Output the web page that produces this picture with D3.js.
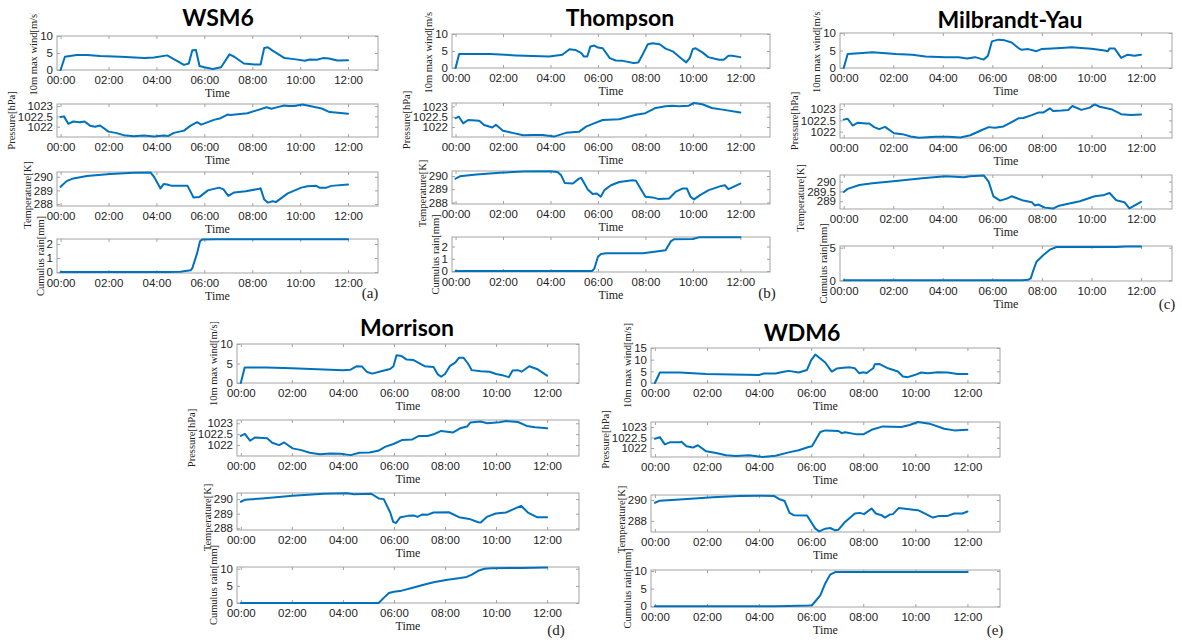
<!DOCTYPE html>
<html>
<head>
<meta charset="utf-8">
<script src="https://cdn.jsdelivr.net/npm/d3@7"></script>
<style>
  html, body { margin: 0; padding: 0; background: #fff; }
  svg { display: block; }
</style>
</head>
<body>
<script>
// ---------- time axis ----------
const timeTickHours = [0, 2, 4, 6, 8, 10, 12];
const timeTickLabels = ["00:00", "02:00", "04:00", "06:00", "08:00", "10:00", "12:00"];
const variableLabels = ["10m max wind[m/s]", "Pressure[hPa]", "Temperature[K]", "Cumulus rain[mm]"];
const schemeTitles = ["WSM6", "Thompson", "Milbrandt-Yau", "Morrison", "WDM6"];
const panelTags = ["(a)", "(b)", "(c)", "(d)", "(e)"];

// ---------- WSM6 ([hour, value]) ----------
const wsm6Wind = [[0,0],[0.18,3.9],[0.67,4.4],[1.1,4.4],[1.65,4.1],[2.5,3.9],[3.5,3.5],[3.9,3.7],[4.45,4.3],[5.15,1.5],[5.35,1.9],[5.5,5.8],[5.65,5.9],[5.8,1.2],[6.0,0.8],[6.35,0.3],[6.7,0.8],[7.05,4.6],[7.25,3.9],[7.65,1.9],[8.1,1.6],[8.35,1.6],[8.5,6.5],[8.65,6.7],[8.85,5.7],[9.35,3.5],[9.75,3.2],[10.2,2.7],[10.4,3.1],[10.7,3.0],[10.95,3.5],[11.2,3.4],[11.55,2.8],[12,2.9]];
const wsm6Pres = [[0,1022.47],[0.14,1022.5],[0.32,1022.14],[0.53,1022.25],[0.8,1022.22],[1.0,1022.25],[1.23,1022.05],[1.44,1022.0],[1.65,1022.06],[2.0,1021.76],[2.3,1021.7],[2.63,1021.59],[3.05,1021.54],[3.47,1021.57],[3.9,1021.52],[4.3,1021.57],[4.5,1021.55],[4.73,1021.7],[5.15,1021.81],[5.43,1022.05],[5.7,1022.22],[5.87,1022.1],[6.4,1022.33],[6.68,1022.41],[6.97,1022.59],[7.1,1022.57],[7.8,1022.65],[8.15,1022.78],[8.6,1022.94],[8.8,1022.87],[9.06,1022.95],[9.34,1023.03],[9.5,1023.0],[9.76,1023.0],[10.1,1023.08],[10.4,1023.0],[10.9,1022.88],[11.23,1022.71],[11.58,1022.67],[12,1022.63]];
const wsm6Temp = [[0,289.26],[0.25,289.68],[0.53,289.88],[1.1,290.05],[2.07,290.2],[3.05,290.3],[3.75,290.32],[3.9,290.0],[4.17,289.14],[4.3,289.46],[4.45,289.43],[4.65,289.33],[5.3,289.33],[5.55,288.47],[5.8,288.52],[6.15,289.0],[6.62,289.2],[6.8,289.07],[7.0,288.6],[7.25,288.85],[7.73,288.93],[8.3,289.12],[8.35,289.15],[8.5,288.33],[8.65,288.1],[8.85,288.2],[9.0,288.15],[9.48,288.78],[10.05,289.2],[10.3,289.3],[10.67,289.33],[10.8,289.2],[11.1,289.2],[11.3,289.33],[12,289.43]];
const wsm6Rain = [[0,0],[4.5,0],[5.0,0.02],[5.43,0.12],[5.5,0.28],[5.7,1.35],[5.82,2.2],[5.92,2.33],[6.5,2.35],[12,2.35]];

// ---------- Thompson ----------
const thomWind = [[0,0],[0.15,4.1],[0.9,4.1],[1.45,4.1],[2.55,3.7],[3.95,3.4],[4.5,3.9],[4.8,5.5],[5.05,5.3],[5.3,4.4],[5.4,3.4],[5.55,3.4],[5.68,6.3],[5.85,6.6],[6.0,6.0],[6.2,5.8],[6.5,2.9],[6.75,2.2],[7.05,2.1],[7.5,1.5],[7.7,1.6],[7.85,3.5],[8.1,7.0],[8.3,7.3],[8.6,7.0],[8.85,5.7],[9.15,4.9],[9.55,2.6],[9.72,1.65],[9.87,3.0],[10.0,5.6],[10.12,5.8],[10.4,4.6],[10.65,3.2],[11.1,2.4],[11.3,2.4],[11.5,3.6],[11.65,3.6],[12,3.2]];
const thomPres = [[0,1022.43],[0.14,1022.5],[0.32,1022.18],[0.53,1022.34],[1.0,1022.3],[1.2,1022.1],[1.55,1021.98],[1.7,1022.11],[2.0,1021.82],[2.4,1021.72],[2.85,1021.6],[3.25,1021.62],[3.67,1021.62],[4.15,1021.54],[4.65,1021.72],[5.2,1021.77],[5.5,1022.02],[5.78,1022.15],[6.2,1022.34],[6.9,1022.38],[7.6,1022.59],[8.0,1022.67],[8.43,1022.92],[8.85,1023.0],[9.13,1023.03],[9.4,1023.0],[9.83,1023.03],[10.04,1023.16],[10.4,1023.1],[10.8,1022.92],[11.25,1022.84],[12,1022.7]];
const thomTemp = [[0,289.8],[0.18,289.98],[0.88,290.12],[1.86,290.25],[2.84,290.35],[3.96,290.37],[4.3,290.3],[4.45,290.05],[4.6,289.48],[4.94,289.43],[5.2,289.8],[5.3,289.85],[5.57,288.98],[5.78,288.63],[5.95,288.68],[6.12,288.43],[6.27,288.93],[6.55,289.3],[6.9,289.55],[7.45,289.68],[7.6,289.65],[8.0,288.43],[8.3,288.38],[8.57,288.25],[9.0,288.3],[9.27,288.8],[9.55,289.05],[9.75,289.05],[9.9,288.43],[10.05,288.23],[10.3,288.55],[10.67,288.93],[11.2,289.25],[11.35,289.3],[11.5,289.0],[12,289.43]];
const thomRain = [[0,0],[5.75,0],[5.85,0.2],[6.0,1.17],[6.13,1.4],[6.35,1.45],[7.9,1.45],[8.3,1.55],[8.85,1.7],[9.06,2.4],[9.2,2.6],[10.0,2.62],[10.25,2.75],[12,2.75]];

// ---------- Milbrandt-Yau ----------
const myWind = [[0,0],[0.16,4.0],[0.76,4.3],[1.16,4.5],[2.1,4.0],[2.77,3.8],[3.3,3.3],[4.1,3.1],[4.64,3.1],[4.98,2.7],[5.3,3.1],[5.65,2.4],[5.82,3.5],[5.98,7.6],[6.25,8.1],[6.5,7.9],[6.78,7.3],[7.05,5.7],[7.18,5.2],[7.45,5.4],[7.78,4.8],[7.98,5.4],[8.4,5.6],[8.93,5.8],[9.2,5.9],[10.0,5.5],[10.53,5.0],[10.66,4.8],[10.73,5.6],[10.93,5.6],[11.2,2.9],[11.46,3.8],[11.73,3.5],[12,3.8]];
const myPres = [[0,1022.53],[0.16,1022.57],[0.36,1022.27],[0.56,1022.39],[0.9,1022.36],[1.03,1022.36],[1.23,1022.2],[1.43,1022.11],[1.67,1022.21],[2.03,1021.93],[2.37,1021.89],[2.7,1021.79],[3.04,1021.73],[3.7,1021.77],[4.24,1021.77],[4.71,1021.74],[5.11,1021.84],[5.51,1022.04],[5.85,1022.2],[6.11,1022.17],[6.45,1022.23],[6.72,1022.39],[7.05,1022.59],[7.25,1022.6],[7.59,1022.73],[7.85,1022.84],[8.05,1022.84],[8.32,1023.03],[8.45,1022.91],[8.79,1022.93],[9.06,1022.96],[9.23,1023.13],[9.59,1022.96],[9.93,1023.06],[10.13,1023.2],[10.33,1023.1],[10.8,1022.99],[11.2,1022.77],[11.6,1022.74],[12,1022.76]];
const myTemp = [[0,289.47],[0.16,289.63],[0.63,289.83],[1.16,289.92],[2.1,290.03],[3.17,290.17],[4.1,290.28],[4.5,290.25],[4.84,290.22],[5.1,290.28],[5.65,290.32],[5.85,290.0],[6.04,289.25],[6.31,289.03],[6.58,289.13],[6.78,289.25],[7.25,289.03],[7.59,288.95],[7.72,288.78],[7.85,288.83],[8.12,288.67],[8.45,288.62],[8.65,288.75],[9.06,288.87],[9.53,289.0],[10.13,289.25],[10.46,289.3],[10.73,289.42],[11.0,289.05],[11.33,288.95],[11.53,288.63],[12,288.97]];
const myRain = [[0,0],[7.2,0],[7.45,0.1],[7.55,0.3],[7.65,1.5],[7.78,2.85],[8.05,3.85],[8.32,4.7],[8.59,5.1],[11.0,5.1],[11.4,5.2],[12,5.2]];

// ---------- Morrison ----------
const morWind = [[0,0],[0.15,4.0],[1.0,4.0],[2.0,3.8],[3.0,3.5],[4.0,3.3],[4.3,3.4],[4.55,4.3],[4.75,4.2],[4.95,2.8],[5.15,2.4],[5.5,3.0],[5.85,3.6],[5.98,4.3],[6.1,7.1],[6.3,6.9],[6.5,6.0],[6.75,5.9],[7.2,4.3],[7.55,4.1],[7.72,2.2],[7.85,1.6],[8.0,2.3],[8.2,4.4],[8.4,5.2],[8.55,6.5],[8.72,6.5],[8.9,5.0],[9.05,3.3],[9.4,3.0],[9.75,2.9],[10.0,2.3],[10.3,1.9],[10.5,1.5],[10.65,3.2],[10.85,3.3],[11.0,2.9],[11.3,4.3],[11.6,3.6],[12,1.9]];
const morPres = [[0,1022.42],[0.16,1022.51],[0.36,1022.2],[0.56,1022.35],[1.03,1022.31],[1.23,1022.11],[1.5,1022.0],[1.7,1022.12],[2.03,1021.85],[2.37,1021.77],[2.7,1021.65],[3.1,1021.58],[3.5,1021.62],[3.9,1021.6],[4.3,1021.54],[4.64,1021.65],[5.04,1021.66],[5.38,1021.74],[5.65,1021.92],[5.98,1022.05],[6.31,1022.23],[6.72,1022.26],[6.98,1022.42],[7.32,1022.42],[7.59,1022.51],[7.85,1022.65],[8.32,1022.58],[8.59,1022.77],[8.86,1022.85],[8.99,1023.03],[9.39,1023.08],[9.66,1023.0],[10.13,1023.05],[10.39,1023.1],[10.86,1023.06],[11.2,1022.88],[11.53,1022.82],[12,1022.77]];
const morTemp = [[0,289.82],[0.16,289.95],[0.83,290.05],[2.03,290.23],[3.24,290.37],[4.17,290.41],[4.44,290.34],[5.11,290.37],[5.4,290.05],[5.6,290.0],[5.85,289.1],[5.97,288.44],[6.08,288.36],[6.25,288.76],[6.55,288.85],[6.8,288.87],[6.92,288.78],[7.1,288.94],[7.3,288.92],[7.55,289.08],[8.15,289.1],[8.55,288.76],[8.95,288.64],[9.3,288.41],[9.4,288.39],[9.66,288.8],[9.99,289.01],[10.39,289.08],[10.8,289.4],[10.98,289.54],[11.25,289.08],[11.6,288.76],[12,288.76]];
const morRain = [[0,0],[5.4,0],[5.6,1.5],[5.8,2.9],[6.0,3.3],[6.3,3.6],[6.7,4.4],[7.2,5.4],[7.6,6.1],[8.1,6.8],[8.6,7.3],[8.85,7.6],[9.05,8.3],[9.3,9.4],[9.55,10.0],[9.8,10.15],[11.0,10.2],[12,10.35]];

// ---------- WDM6 ----------
const wdmWind = [[0,0],[0.19,4.5],[0.95,4.5],[1.97,3.9],[2.98,3.6],[4.0,3.4],[4.19,4.1],[4.63,4.1],[4.95,4.8],[5.14,5.2],[5.52,4.5],[5.84,5.6],[6.0,9.8],[6.16,12.2],[6.35,10.5],[6.54,8.8],[6.79,4.9],[6.98,6.2],[7.24,6.5],[7.49,6.7],[7.68,6.3],[7.84,4.2],[8.0,4.6],[8.13,4.3],[8.38,6.3],[8.44,8.0],[8.63,8.1],[8.95,6.3],[9.33,4.9],[9.52,2.8],[9.71,2.5],[9.97,3.4],[10.22,4.5],[10.48,4.2],[10.86,4.6],[11.24,4.5],[11.62,3.9],[12,3.9]];
const wdmPres = [[0,1022.44],[0.19,1022.52],[0.38,1022.17],[0.57,1022.27],[0.95,1022.27],[1.02,1022.3],[1.21,1022.08],[1.46,1022.02],[1.65,1022.13],[1.97,1021.84],[2.35,1021.76],[2.73,1021.65],[3.11,1021.62],[3.62,1021.65],[4.13,1021.57],[4.63,1021.63],[5.14,1021.79],[5.52,1021.89],[5.9,1022.05],[6.03,1022.08],[6.35,1022.76],[6.54,1022.84],[7.05,1022.81],[7.17,1022.71],[7.3,1022.75],[7.75,1022.65],[8.0,1022.65],[8.32,1022.87],[8.76,1023.03],[9.46,1023.0],[9.78,1023.1],[10.1,1023.24],[10.54,1023.16],[11.11,1022.92],[11.49,1022.84],[12,1022.87]];
const wdmTemp = [[0,289.74],[0.19,289.94],[0.95,290.06],[2.22,290.26],[3.24,290.39],[4.0,290.42],[4.57,290.39],[4.76,290.1],[4.98,289.9],[5.17,288.77],[5.33,288.55],[5.84,288.52],[6.16,287.26],[6.31,287.0],[6.54,287.26],[6.73,287.32],[6.92,287.1],[7.05,287.16],[7.3,287.9],[7.68,288.71],[7.87,288.77],[8.03,288.65],[8.32,289.19],[8.48,288.71],[8.7,288.55],[8.83,288.32],[9.02,288.61],[9.14,288.65],[9.36,289.23],[9.84,289.1],[10.1,289.03],[10.41,288.65],[10.67,288.32],[10.92,288.48],[11.24,288.48],[11.49,288.71],[11.81,288.71],[12,288.9]];
const wdmRain = [[0,0],[4.6,0],[5.14,0.1],[5.9,0.2],[6.03,0.3],[6.17,1.5],[6.35,3.1],[6.54,6.5],[6.73,9.0],[6.92,9.7],[7.2,9.75],[12,9.75]];

// ---------- y ranges and ticks per scheme (wind, pressure, temperature, rain) ----------
const wsm6Domains = [[0,10],[1021.5,1023.1],[287.85,290.35],[-0.07,2.36]];
const thomDomains = [[0,10],[1021.52,1023.16],[287.88,290.38],[-0.08,2.78]];
const myDomains   = [[0,10],[1021.72,1023.22],[288.6,290.34],[-0.1,5.26]];
const morDomains  = [[0,10],[1021.5,1023.15],[287.88,290.42],[0,10.5]];
const wdmDomains  = [[0,15],[1021.57,1023.24],[286.94,290.48],[-0.2,10.3]];

const wsm6Ticks = [[0,5,10],[1022,1022.5,1023],[288,289,290],[0,1,2]];
const thomTicks = [[0,5,10],[1022,1022.5,1023],[288,289,290],[0,1,2]];
const myTicks   = [[0,5,10],[1022,1022.5,1023],[289,289.5,290],[0,5]];
const morTicks  = [[0,5,10],[1022,1022.5,1023],[288,289,290],[0,5,10]];
const wdmTicks  = [[0,5,10,15],[1022,1022.5,1023],[288,290],[0,5,10]];

const timeDomain = [-0.15, 13.25];

// ---------- page layout (pixels) ----------
const layout = [
  { x0: 57,  x1: 378,  rows: [[36,70],[104,137],[172,206],[239,273]], clipTop: 13,  title: [218, 26],  tag: [370, 298] },
  { x0: 452, x1: 770,  rows: [[34,68],[103,137],[171,204],[237,272]], clipTop: 12,  title: [620, 26],  tag: [767, 298] },
  { x0: 840, x1: 1172, rows: [[33,68],[104,138],[175,209],[246,281]], clipTop: 10,  title: [1010, 28], tag: [1167, 309] },
  { x0: 237, x1: 579,  rows: [[344,383],[420,456],[493,530],[567,603]], clipTop: 322, title: [407, 336], tag: [556, 635] },
  { x0: 651, x1: 1000, rows: [[348,383],[422,457],[495,532],[570,607]], clipTop: 322, title: [802, 341], tag: [995, 635] }
];

const schemes = [
  { series: [wsm6Wind, wsm6Pres, wsm6Temp, wsm6Rain], domains: wsm6Domains, ticks: wsm6Ticks },
  { series: [thomWind, thomPres, thomTemp, thomRain], domains: thomDomains, ticks: thomTicks },
  { series: [myWind, myPres, myTemp, myRain],         domains: myDomains,   ticks: myTicks },
  { series: [morWind, morPres, morTemp, morRain],     domains: morDomains,  ticks: morTicks },
  { series: [wdmWind, wdmPres, wdmTemp, wdmRain],     domains: wdmDomains,  ticks: wdmTicks }
];

// ---------- styles ----------
const LINE_COLOR = "#0072BD";
const BOX_COLOR = "#a3a3a3";
const TICK_TEXT = "#1e1e1e";
const SANS = "'Liberation Sans', Arial, Helvetica, sans-serif";
const SERIF = "'Liberation Serif', 'Times New Roman', serif";
const TITLE_FONT = "Lato, 'Open Sans', sans-serif";

const svg = d3.select("body").append("svg")
  .attr("width", 1182).attr("height", 642)
  .attr("viewBox", "0 0 1182 642");

const defs = svg.append("defs");

schemes.forEach((scheme, p) => {
  const L = layout[p];
  const clipId = "panel-clip-" + p;
  defs.append("clipPath").attr("id", clipId)
    .append("rect").attr("x", L.x0 - 120).attr("y", L.clipTop)
    .attr("width", L.x1 - L.x0 + 200).attr("height", 400);

  const panel = svg.append("g").attr("clip-path", `url(#${clipId})`);

  const x = d3.scaleLinear().domain(timeDomain).range([L.x0, L.x1]);

  L.rows.forEach(([top, bottom], r) => {
    const y = d3.scaleLinear().domain(scheme.domains[r]).range([bottom, top]);
    const g = panel.append("g");

    // axes box
    g.append("rect")
      .attr("x", L.x0).attr("y", top)
      .attr("width", L.x1 - L.x0).attr("height", bottom - top)
      .attr("fill", "none").attr("stroke", BOX_COLOR).attr("stroke-width", 1);

    // bottom time axis: inward ticks + labels
    const xb = g.append("g").attr("transform", `translate(0,${bottom})`)
      .call(d3.axisBottom(x).tickValues(timeTickHours)
        .tickFormat((d, i) => timeTickLabels[i]).tickSize(-3).tickPadding(6));
    // top edge: inward ticks only
    const xt = g.append("g").attr("transform", `translate(0,${top})`)
      .call(d3.axisTop(x).tickValues(timeTickHours).tickFormat("").tickSize(-3));

    // left value axis
    const yl = g.append("g").attr("transform", `translate(${L.x0},0)`)
      .call(d3.axisLeft(y).tickValues(scheme.ticks[r])
        .tickFormat(d => String(d)).tickSize(-3).tickPadding(4));
    // right edge: inward ticks only
    const yr = g.append("g").attr("transform", `translate(${L.x1},0)`)
      .call(d3.axisRight(y).tickValues(scheme.ticks[r]).tickFormat("").tickSize(-3));

    [xb, xt, yl, yr].forEach(a => {
      a.select(".domain").remove();
      a.selectAll(".tick line").attr("stroke", BOX_COLOR);
      a.selectAll(".tick text")
        .attr("fill", TICK_TEXT)
        .style("font-family", SANS)
        .style("font-size", "11.5px");
    });

    // "Time" label
    g.append("text")
      .attr("x", (L.x0 + L.x1) / 2).attr("y", bottom + 27)
      .attr("text-anchor", "middle")
      .style("font-family", SERIF).style("font-size", "12px")
      .attr("fill", "#222")
      .text("Time");

    // variable label, left of the tick labels (bbox is in the group's own space)
    const tickBox = yl.node().getBBox();
    const lx = L.x0 + tickBox.x - 3;
    const ly = (top + bottom) / 2 + (r === 2 ? 6 : 0);
    g.append("text")
      .attr("transform", `translate(${lx},${ly}) rotate(-90)`)
      .attr("text-anchor", "middle")
      .style("font-family", SERIF).style("font-size", "10.5px")
      .attr("fill", "#222")
      .text(variableLabels[r]);

    // data line
    g.append("path")
      .datum(scheme.series[r])
      .attr("fill", "none")
      .attr("stroke", LINE_COLOR)
      .attr("stroke-width", 2)
      .attr("stroke-linejoin", "round")
      .attr("stroke-linecap", "round")
      .attr("d", d3.line().x(d => x(d[0])).y(d => y(d[1])));
  });

  // panel tag
  svg.append("text")
    .attr("x", L.tag[0]).attr("y", L.tag[1])
    .attr("text-anchor", "middle")
    .style("font-family", SERIF).style("font-size", "15px")
    .attr("fill", "#222")
    .text(panelTags[p]);

  // scheme title
  svg.append("text")
    .attr("x", L.title[0]).attr("y", L.title[1])
    .attr("text-anchor", "middle")
    .style("font-family", TITLE_FONT).style("font-weight", "bold").style("font-size", "23px")
    .attr("fill", "#000")
    .text(schemeTitles[p]);
});
</script>
</body>
</html>
